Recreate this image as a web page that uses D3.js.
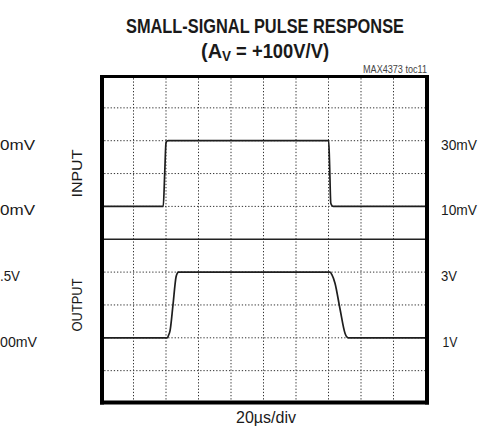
<!DOCTYPE html>
<html>
<head>
<meta charset="utf-8">
<script src="https://cdn.jsdelivr.net/npm/d3@7"></script>
<style>
  html, body { margin: 0; padding: 0; background: #fff; }
  svg { display: block; }
  text { font-family: "Liberation Sans", Arial, sans-serif; fill: #1a1a1a; }
</style>
</head>
<body>
<script>
// ---------- data ----------
const titleLine1 = "SMALL-SIGNAL PULSE RESPONSE";
const titleLine2 = ["(A", "V", " = +100V/V)"];
const noteLabel = "MAX4373 toc11";
const xAxisLabel = "20\u00b5s/div";
const timeDomainUs = [0, 200];        // 10 divisions x 20us
const divisions = [0, 1, 2, 3, 4, 5, 6, 7, 8, 9, 10];

// input trace (mV) vs time (us)
const inputT  = [0, 38.3, 39.2, 40.0, 40.6, 41.4, 100, 140.1, 140.6, 141.4, 142.2, 143.0, 200];
const inputMv = [10, 10,  20,   29.3, 29.9, 30,   30,  30,    24,    11,    10.2,  10,    10];

// output trace (V) vs time (us)
const outputT = [0, 40.8, 41.6, 42.5, 44.3, 46.2, 47.0, 47.6, 140.9, 142.0, 144.0, 147.0, 150.2, 151.2, 152.2, 200];
const outputV = [1, 1,    1.08, 1.22, 2.0,  2.86, 2.97, 3.0,  3.0,   2.93,  2.66,  1.9,   1.13,  1.03,  1.0,   1];

const rightLabels = ["30mV", "10mV", "3V", "1V"];
const rightLabelDiv = [8, 6, 4, 2];
const leftLabels = ["0mV", "0mV", ".5V", "00mV"];
const channelNames = ["INPUT", "OUTPUT"];
const channelDiv = [7, 3];

// ---------- layout ----------
const W = 483, H = 433;
const svg = d3.select("body").append("svg").attr("width", W).attr("height", H);

const x = d3.scaleLinear().domain(timeDomainUs).range([101, 426]);
const yDiv = d3.scaleLinear().domain([0, 10]).range([403.5, 75]);
const yIn = d3.scaleLinear().domain([10, 30]).range([yDiv(6), yDiv(8)]);
const yOut = d3.scaleLinear().domain([1, 3]).range([yDiv(2), yDiv(4)]);

// helper: condensed text via measured width
function fit(sel, w) {
  return sel.attr("textLength", w).attr("lengthAdjust", "spacingAndGlyphs");
}

// grid
const grid = svg.append("g");
const xTicks = d3.range(1, 10).map(i => timeDomainUs[0] + i * 20);
grid.selectAll("line.v").data(xTicks).join("line")
  .attr("x1", d => x(d)).attr("x2", d => x(d))
  .attr("y1", yDiv(10)).attr("y2", yDiv(0))
  .attr("stroke", "#333").attr("stroke-width", 1).attr("stroke-dasharray", "1.3,1.9");
grid.selectAll("line.h").data(divisions.filter(d => d > 0 && d < 10 && d !== 5)).join("line")
  .attr("x1", x(0)).attr("x2", x(200))
  .attr("y1", d => yDiv(d)).attr("y2", d => yDiv(d))
  .attr("stroke", "#333").attr("stroke-width", 1).attr("stroke-dasharray", "1.3,1.9");

// center solid line
svg.append("line")
  .attr("x1", x(0)).attr("x2", x(200))
  .attr("y1", yDiv(5)).attr("y2", yDiv(5))
  .attr("stroke", "#222").attr("stroke-width", 1.5);

// traces
const lineIn = d3.line().x((d, i) => x(inputT[i])).y(d => yIn(d)).curve(d3.curveMonotoneX);
const lineOut = d3.line().x((d, i) => x(outputT[i])).y(d => yOut(d)).curve(d3.curveMonotoneX);
svg.append("path").attr("d", lineIn(inputMv))
  .attr("fill", "none").attr("stroke", "#1e1e1e").attr("stroke-width", 1.7);
svg.append("path").attr("d", lineOut(outputV))
  .attr("fill", "none").attr("stroke", "#1e1e1e").attr("stroke-width", 1.7);

// frame
const fx0 = 102, fx1 = 427, fy0 = 76.5, fy1 = 402.5;
svg.append("line").attr("x1", fx0).attr("x2", fx0).attr("y1", fy0 - 1.5).attr("y2", fy1 + 2)
  .attr("stroke", "#000").attr("stroke-width", 4);
svg.append("line").attr("x1", fx1).attr("x2", fx1).attr("y1", fy0 - 1.5).attr("y2", fy1 + 2)
  .attr("stroke", "#000").attr("stroke-width", 4);
svg.append("line").attr("x1", fx0 - 2).attr("x2", fx1 + 2).attr("y1", fy1).attr("y2", fy1)
  .attr("stroke", "#000").attr("stroke-width", 4);
svg.append("line").attr("x1", fx0 - 2).attr("x2", fx1 + 2).attr("y1", fy0).attr("y2", fy0)
  .attr("stroke", "#000").attr("stroke-width", 3);

// title
fit(svg.append("text").attr("x", 126).attr("y", 33)
  .attr("font-size", 20).attr("font-weight", "bold").text(titleLine1), 278);
const t2 = svg.append("text").attr("x", 201).attr("y", 58)
  .attr("font-size", 20).attr("font-weight", "bold");
fit(t2.append("tspan").text(titleLine2[0]), 21);
fit(t2.append("tspan").attr("font-size", 14).attr("dy", 3).text(titleLine2[1]), 9);
fit(t2.append("tspan").attr("dy", -3).text(titleLine2[2]), 98);

fit(svg.append("text").attr("x", 363).attr("y", 73)
  .attr("font-size", 11).style("fill", "#444").text(noteLabel), 64);

// x axis label
fit(svg.append("text").attr("x", 236).attr("y", 423)
  .attr("font-size", 16).text(xAxisLabel), 60);

// right labels
const rightW = [36, 36, 16, 15];
svg.selectAll("text.rl").data(rightLabels).join("text")
  .attr("x", (d, i) => i === 3 ? 442.5 : 441)
  .attr("y", (d, i) => yDiv(rightLabelDiv[i]) + 9)
  .attr("font-size", 15.5).text(d => d)
  .attr("textLength", (d, i) => rightW[i]).attr("lengthAdjust", "spacingAndGlyphs");

// left labels (clipped by the page edge in the original)
const leftW = [35, 35, 20, 37];
svg.selectAll("text.ll").data(leftLabels).join("text")
  .attr("x", 0).attr("y", (d, i) => yDiv(rightLabelDiv[i]) + 9)
  .attr("font-size", 15.5).text(d => d)
  .attr("textLength", (d, i) => leftW[i]).attr("lengthAdjust", "spacingAndGlyphs");

// channel names (rotated)
const chW = [48, 53];
svg.selectAll("text.ch").data(channelNames).join("text")
  .attr("transform", (d, i) => `translate(82,${yDiv(channelDiv[i]) + chW[i] / 2}) rotate(-90)`)
  .attr("font-size", 15.5).text(d => d)
  .attr("textLength", (d, i) => chW[i]).attr("lengthAdjust", "spacingAndGlyphs");
</script>
</body>
</html>
